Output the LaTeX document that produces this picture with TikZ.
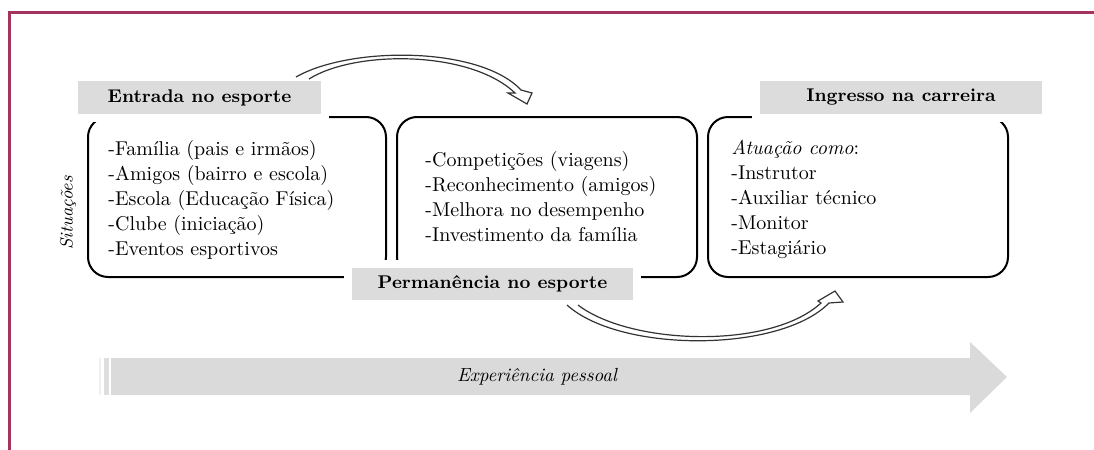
\documentclass[tikz,border=0pt]{standalone}
\usepackage{fontspec}
\definecolor{molduravinho}{RGB}{164,52,94}
\definecolor{rotulocinza}{RGB}{220,220,220}
\definecolor{setacinza}{RGB}{218,218,218}
\begin{document}
\begin{tikzpicture}[x=0.5pt,y=-0.5pt,
	caixa/.style={draw=black,line width=1pt,rounded corners=10pt,inner sep=0pt},
	rotulo/.style={fill=rotulocinza,draw=white,line width=4pt,inner sep=0pt,font=\fontsize{9.2}{11}\selectfont\bfseries},
	lista/.style={align=left,inner sep=0pt,anchor=west,font=\fontsize{10}{12.5}\selectfont},
	seta/.style={draw=black!80,line width=0.6pt,fill=white,line join=miter}]
	\useasboundingbox (0,0) rectangle (1094,450);
	% moldura
	\draw[molduravinho,line width=1.5pt] (1094,12) -- (9,12) -- (9,450);
	% caixas
	\node[caixa,minimum width=149pt,minimum height=80pt] (entrada) at (237,197) {};
	\node[caixa,minimum width=150pt,minimum height=80pt] (permanencia) at (547,197) {};
	\node[caixa,minimum width=150pt,minimum height=80pt] (ingresso) at (858,197) {};
	% rotulos
	\node[rotulo,minimum width=125.5pt,minimum height=20.5pt] (rotentrada) at (199.5,97.5) {Entrada no esporte};
	\node[rotulo,minimum width=145pt,minimum height=20.5pt] (rotingresso) at (901,97.5) {Ingresso na carreira};
	\node[rotulo,minimum width=144.5pt,minimum height=20pt] (rotpermanencia) at (492.5,284) {Permanência no esporte};
	% listas
	\node[lista] (listaentrada) at (108,199.5) {-Família (pais e irmãos)\\-Amigos (bairro e escola)\\-Escola (Educação Física)\\-Clube (iniciação)\\-Eventos esportivos};
	\node[lista] (listapermanencia) at (425,196.5) {-Competições (viagens)\\-Reconhecimento (amigos)\\-Melhora no desempenho\\-Investimento da família};
	\node[lista] (listaingresso) at (731,199.5) {\textit{Atuação como}:\\-Instrutor\\-Auxiliar técnico\\-Monitor\\-Estagiário};
	\node[rotate=90,font=\small\itshape] (situacoes) at (68,213) {Situações};
	% setas curvas
	\draw[seta] (296,77) .. controls (350,46) and (480,46) .. (521,90) -- (532,93) -- (527,104) -- (508,93) -- (515,93) .. controls (470,50) and (355,50) .. (309,79);
	\draw[seta] (578,305) .. controls (630,345) and (770,350) .. (821,303) -- (818,301) -- (835,291) -- (843,302) -- (829,303) .. controls (780,353) and (620,353) .. (567,305);
	% seta grande
	\fill[black!6] (99,358) rectangle (101,395);
	\fill[black!13] (104,358) rectangle (109,395);
	\fill[setacinza] (111,358) -- (970,358) -- (970,342) -- (1007,377) -- (970,413) -- (970,395) -- (111,395) -- cycle;
	\node[font=\fontsize{9.5}{12}\selectfont\itshape] (experiencia) at (537,377) {Experiência pessoal};
\end{tikzpicture}
\end{document}
